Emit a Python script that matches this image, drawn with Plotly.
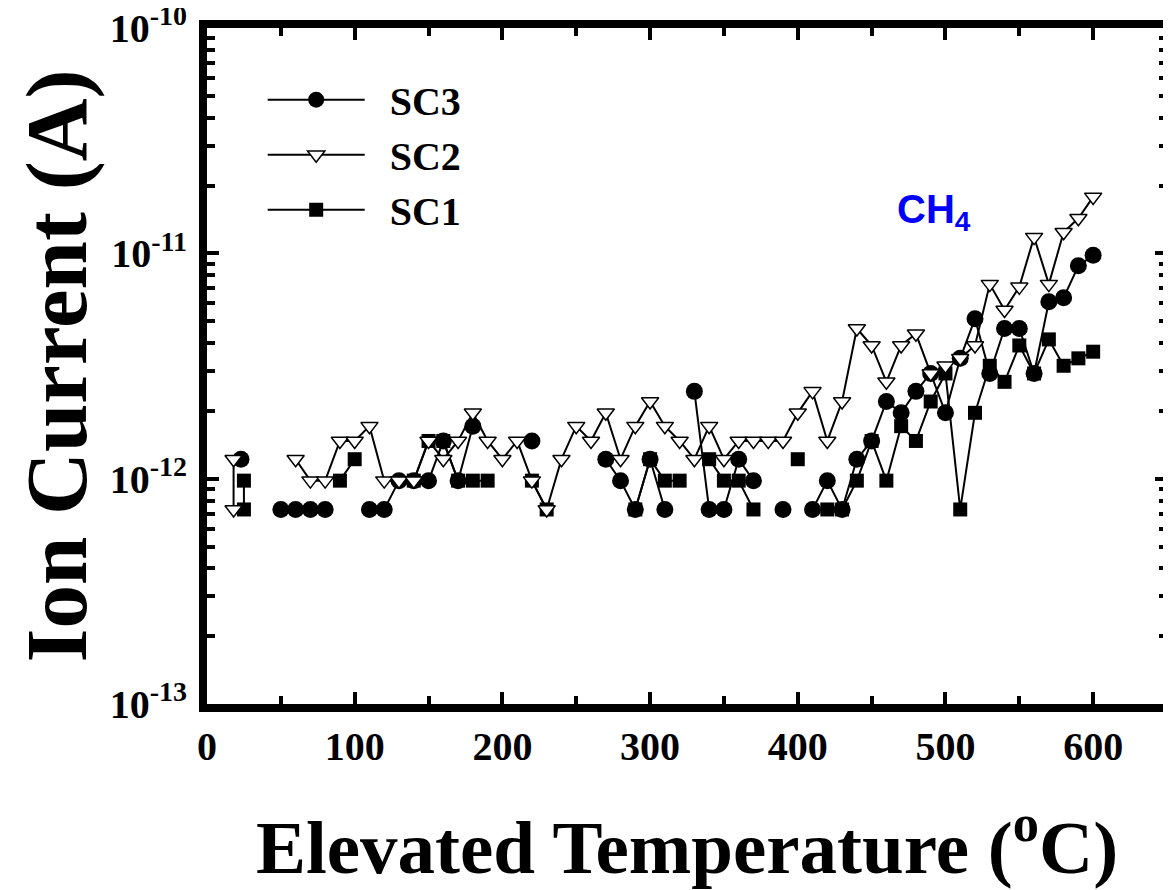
import plotly.graph_objects as go

# ---- data ----
SC1_T = [25, 25, 40, 90, 100, 110, 140, 150, 160, 170, 180, 190, 200, 220, 230, 240,
         290, 300, 310, 320, 330, 340, 350, 360, 370, 380, 400, 410,
         420, 430, 440, 450, 460, 470, 480, 490, 500, 510, 520, 530, 540, 550, 560,
         570, 580, 590, 600]
SC1_I = [9.8e-13, 7.3e-13, None, 9.8e-13, 1.22e-12, None, 9.8e-13, 1.47e-12, 1.47e-12,
         9.8e-13, 9.8e-13, 9.8e-13, None, 9.8e-13, 7.3e-13, None,
         7.3e-13, 1.22e-12, 9.8e-13, 9.8e-13, None, 1.22e-12, 9.8e-13, 9.8e-13, 7.3e-13,
         None, 1.22e-12, None,
         7.3e-13, 7.3e-13, 9.8e-13, 1.47e-12, 9.8e-13, 1.71e-12, 1.47e-12, 2.2e-12,
         2.93e-12, 7.3e-13, 1.96e-12, 3.17e-12, 2.69e-12, 3.9e-12, 2.93e-12, 4.15e-12,
         3.17e-12, 3.42e-12, 3.66e-12]

SC3_T = [23, 40, 50, 60, 70, 80, 90, 110, 120, 130, 140, 150, 160, 170, 180, 190,
         220, 230, 270, 280, 290, 300, 310, 320, 330, 340, 350, 360, 370, 380, 390, 400,
         410, 420, 430, 440, 450, 460, 470, 480, 490, 500, 510, 520, 530, 540, 550,
         560, 570, 580, 590, 600]
SC3_I = [1.22e-12, None, 7.3e-13, 7.3e-13, 7.3e-13, 7.3e-13, None, 7.3e-13, 7.3e-13,
         9.8e-13, 9.8e-13, 9.8e-13, 1.47e-12, 9.8e-13, 1.71e-12, None,
         1.47e-12, None, 1.22e-12, 9.8e-13, 7.3e-13, 1.22e-12, 7.3e-13, None, 2.44e-12,
         7.3e-13, 7.3e-13, 1.22e-12, 9.8e-13, None, 7.3e-13, None,
         7.3e-13, 9.8e-13, 7.3e-13, 1.22e-12, 1.47e-12, 2.2e-12, 1.96e-12, 2.44e-12,
         2.93e-12, 1.96e-12, 3.42e-12, 5.13e-12, 2.93e-12, 4.64e-12, 4.64e-12,
         2.93e-12, 6.1e-12, 6.35e-12, 8.8e-12, 9.8e-12]

SC2_T = [18, 18, 40] + list(range(60, 610, 10))
SC2_I = [1.22e-12, 7.3e-13, None,
         1.22e-12, 9.8e-13, 9.8e-13, 1.47e-12, 1.47e-12, 1.71e-12, 9.8e-13, 9.8e-13,
         9.8e-13, 1.47e-12, 1.22e-12, 1.47e-12, 1.96e-12, 1.47e-12, 1.22e-12, 1.47e-12,
         9.8e-13, 7.3e-13, 1.22e-12, 1.71e-12, 1.47e-12, 1.96e-12, 1.22e-12, 1.71e-12,
         2.2e-12, 1.71e-12, 1.47e-12, 1.22e-12, 1.71e-12, 1.22e-12, 1.47e-12, 1.47e-12,
         1.47e-12, 1.47e-12, 1.96e-12, 2.44e-12, 1.47e-12, 2.2e-12, 4.64e-12, 3.9e-12,
         2.69e-12, 3.9e-12, 4.4e-12, 2.93e-12, 3.17e-12, 3.42e-12, 3.9e-12, 7.3e-12,
         5.6e-12, 7.1e-12, 1.18e-11, 7.3e-12, 1.24e-11, 1.43e-11, 1.78e-11]

SERIES_NAMES = ["SC1", "SC3", "SC2"]
Y_TICKVALS = [1e-13, 1e-12, 1e-11, 1e-10]
Y_TICKTEXT = ["10<sup>-13</sup>", "10<sup>-12</sup>", "10<sup>-11</sup>", "10<sup>-10</sup>"]
X_TICKVALS = [0, 100, 200, 300, 400, 500, 600]

SERIF = "Liberation Serif"
SP = "\u2002"  # small gap between legend line and label

fig = go.Figure()
line = dict(color="black", width=2)
fig.add_trace(go.Scatter(x=SC1_T, y=SC1_I, name=SP + SERIES_NAMES[0], mode="lines+markers",
                         line=line, connectgaps=False, legendrank=3,
                         marker=dict(symbol="square", size=14, color="black")))
fig.add_trace(go.Scatter(x=SC3_T, y=SC3_I, name=SP + SERIES_NAMES[1], mode="lines+markers",
                         line=line, connectgaps=False, legendrank=1,
                         marker=dict(symbol="circle", size=17, color="black")))
fig.add_trace(go.Scatter(x=SC2_T, y=SC2_I, name=SP + SERIES_NAMES[2], mode="lines+markers",
                         line=line, connectgaps=False, legendrank=2,
                         marker=dict(symbol="triangle-down", size=15, color="white",
                                     line=dict(color="black", width=1.5))))

minor_y = [m * 10.0 ** e for e in range(-13, -10) for m in range(2, 10)]

fig.update_layout(
    template="none",
    width=1171, height=890,
    margin=dict(l=199, r=12, t=20, b=194, autoexpand=False),
    paper_bgcolor="white", plot_bgcolor="white",
    showlegend=True,
    legend=dict(x=0.058, y=0.942, xanchor="left", yanchor="top",
                bgcolor="rgba(0,0,0,0)", itemwidth=97, borderwidth=0,
                font=dict(family=SERIF, size=40, color="black", weight="bold"),
                tracegroupgap=0),
    annotations=[dict(x=492, y=-10.815, xref="x", yref="y", showarrow=False,
                      text="CH<sub>4</sub>",
                      font=dict(family="Liberation Sans", size=40, color="#0000FF",
                                weight="bold"))],
)

fig.update_xaxes(
    automargin=False,
    range=[0, 650], tickvals=X_TICKVALS, ticks="inside", ticklen=12, tickwidth=4,
    tickcolor="black", showline=True, linewidth=8, linecolor="black", mirror="allticks",
    showgrid=False, zeroline=False, ticklabeloverflow="allow",
    minor=dict(tickvals=[50, 150, 250, 350, 450, 550, 650], ticks="inside", ticklen=8,
               tickwidth=4, tickcolor="black", showgrid=False),
    tickfont=dict(family=SERIF, size=40, color="black", weight="bold"),
    ticklabelstandoff=0,
    title=dict(text="Elevated Temperature (<sup>o</sup>C)", standoff=55,
               font=dict(family=SERIF, size=75, color="black", weight="bold")),
)
fig.update_yaxes(
    automargin=False,
    type="log", range=[-13, -10], tickvals=Y_TICKVALS, ticktext=Y_TICKTEXT,
    ticks="inside", ticklen=12, tickwidth=4, tickcolor="black",
    showline=True, linewidth=8, linecolor="black", mirror="allticks",
    showgrid=False, zeroline=False, ticklabeloverflow="allow",
    minor=dict(tickvals=minor_y, ticks="inside", ticklen=8, tickwidth=4,
               tickcolor="black", showgrid=False),
    tickfont=dict(family=SERIF, size=40, color="black", weight="bold"),
    ticklabelstandoff=4,
    title=dict(text="Ion Current (A)", standoff=54,
               font=dict(family=SERIF, size=87, color="black", weight="bold")),
)

fig.write_html("out.html")
